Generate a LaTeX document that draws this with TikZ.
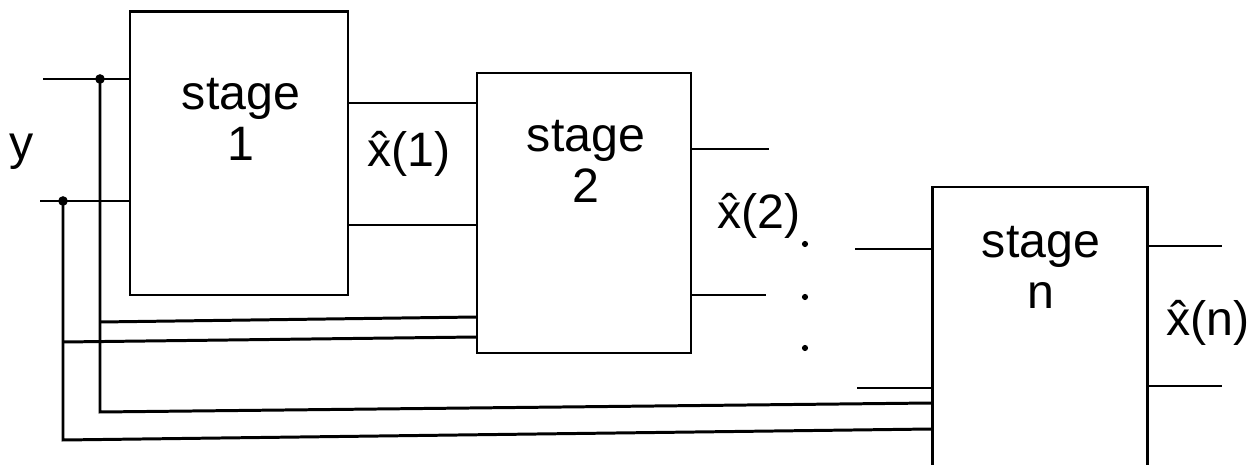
\documentclass[tikz,border=0pt]{standalone}
\usepackage{fontspec}
\setmainfont{Liberation Sans}
\begin{document}
\begin{tikzpicture}[x=0.02cm,y=-0.02cm,
  wire/.style={line width=1.7pt},
  lbl/.style={font=\fontsize{27.5}{29}\selectfont,align=center,inner sep=0pt},
  junc/.style={circle,fill,inner sep=0pt,minimum size=5.5pt},
  edot/.style={circle,fill,inner sep=0pt,minimum size=3.5pt}]
\useasboundingbox (0,0) rectangle (1255,465);
\clip (0,0) rectangle (1255,465);
% boxes
\draw[wire] (130,12) rectangle (348,295);
\draw[wire] (477,73) rectangle (691,353);
\draw[wire] (932,187) rectangle (1147,480);
% coordinates
\coordinate (s1in1) at (130,79);
\coordinate (s1in2) at (130,201);
\coordinate (s1out1) at (348,103);
\coordinate (s1out2) at (348,225);
\coordinate (s2in1) at (477,103);
\coordinate (s2in2) at (477,225);
\coordinate (s2fb1) at (477,317);
\coordinate (s2fb2) at (477,337);
\coordinate (s2out1) at (691,149);
\coordinate (s2out2) at (691,295);
\coordinate (s2end1) at (769,149);
\coordinate (s2end2) at (766,295);
\coordinate (sninstart1) at (855,249);
\coordinate (sninstart2) at (857,388);
\coordinate (snin1) at (932,249);
\coordinate (snin2) at (932,388);
\coordinate (snfb1) at (932,403);
\coordinate (snfb2) at (932,429);
\coordinate (snout1) at (1147,246);
\coordinate (snout2) at (1147,386);
\coordinate (snend1) at (1222,246);
\coordinate (snend2) at (1222,386);
\coordinate (yin1) at (43,79);
\coordinate (yin2) at (40,201);
% junctions
\node[junc] (j1) at (100,79) {};
\node[junc] (j2) at (63,201) {};
% texts
\node[lbl] (t1) at (241,119) {stage\\1};
\node[lbl] (t2) at (586,161) {stage\\2};
\node[lbl] (tn) at (1041,267) {stage\\n};
\node[lbl] (ty) at (22,152) {y};
\node[lbl] (x1) at (409,154) {\^{x}(1)};
\node[lbl] (x2) at (759,216) {\^{x}(2)};
\node[lbl] (xn) at (1208,323) {\^{x}(n)};
% ellipsis dots
\node[edot] (d1) at (805,244) {};
\node[edot] (d2) at (805,297) {};
\node[edot] (d3) at (805,348) {};
% wires
\draw[wire] (yin1) -- (s1in1);
\draw[wire] (yin2) -- (s1in2);
\draw[wire] (j1.center) -- (100,412) -- (snfb1);
\draw[wire] (j2.center) -- (63,440) -- (snfb2);
\draw[wire] (100,322) -- (s2fb1);
\draw[wire] (63,342) -- (s2fb2);
\draw[wire] (s1out1) -- (s2in1);
\draw[wire] (s1out2) -- (s2in2);
\draw[wire] (s2out1) -- (s2end1);
\draw[wire] (s2out2) -- (s2end2);
\draw[wire] (sninstart1) -- (snin1);
\draw[wire] (sninstart2) -- (snin2);
\draw[wire] (snout1) -- (snend1);
\draw[wire] (snout2) -- (snend2);
\end{tikzpicture}
\end{document}
